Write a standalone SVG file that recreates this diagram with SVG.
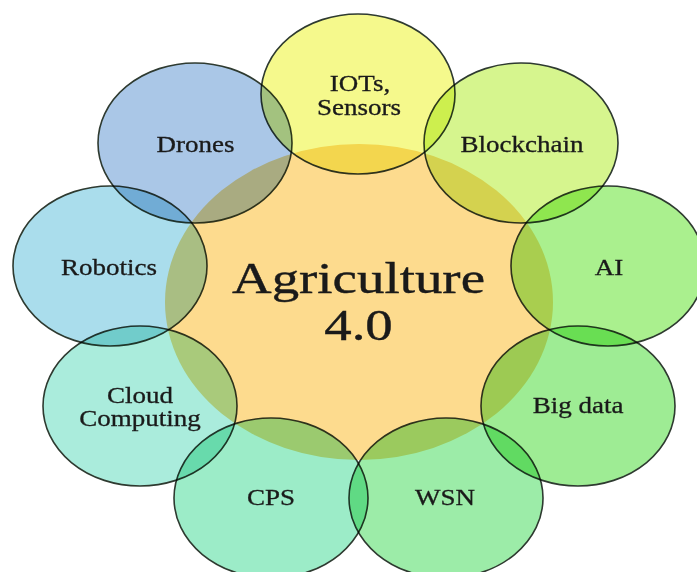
<svg xmlns="http://www.w3.org/2000/svg" width="697" height="572" viewBox="0 0 697 572">
  <style>
    .c { stroke: #2e3a30; stroke-width: 1.6; mix-blend-mode: multiply; }
    .t { font-family: "Liberation Serif", "Times New Roman", serif; font-size: 22.5px; fill: #1a1a1a; stroke: #1a1a1a; stroke-width: 0.3; text-anchor: middle; }
    .big { font-family: "Liberation Serif", "Times New Roman", serif; font-size: 45px; fill: #1a1a1a; stroke: #1a1a1a; stroke-width: 0.4; text-anchor: middle; }
  </style>
  <rect x="0" y="0" width="697" height="572" fill="#ffffff"/>
  <g id="center">
    <ellipse cx="359" cy="302" rx="194" ry="158" fill="#fddb8e"/>
  </g>
  <g id="iots">
    <ellipse class="c" cx="358" cy="94" rx="97" ry="80" fill="#f5f98c"/>
  </g>
  <g id="drones">
    <ellipse class="c" cx="195" cy="143" rx="97" ry="80" fill="#aac7e7"/>
  </g>
  <g id="blockchain">
    <ellipse class="c" cx="521" cy="143" rx="97" ry="80" fill="#d6f58e"/>
  </g>
  <g id="robotics">
    <ellipse class="c" cx="110" cy="266" rx="97" ry="80" fill="#aaddec"/>
  </g>
  <g id="ai">
    <ellipse class="c" cx="608" cy="266" rx="97" ry="80" fill="#aaf08e"/>
  </g>
  <g id="cloud">
    <ellipse class="c" cx="140" cy="406" rx="97" ry="80" fill="#aaecdc"/>
  </g>
  <g id="bigdata">
    <ellipse class="c" cx="578" cy="406" rx="97" ry="80" fill="#9eec94"/>
  </g>
  <g id="cps">
    <ellipse class="c" cx="271" cy="498" rx="97" ry="80" fill="#9cecc8"/>
  </g>
  <g id="wsn">
    <ellipse class="c" cx="446" cy="498" rx="97" ry="80" fill="#9ceca8"/>
  </g>
  <g id="connectors"/>
  <g id="labels">
    <text class="big" transform="translate(358.5,293) scale(1.22,1)">Agriculture</text>
    <text class="big" transform="translate(358.5,340) scale(1.22,1)">4.0</text>
    <text class="t" transform="translate(360,91) scale(1.2,1)">IOTs,</text>
    <text class="t" transform="translate(359,115) scale(1.2,1)">Sensors</text>
    <text class="t" transform="translate(195.5,152) scale(1.2,1)">Drones</text>
    <text class="t" transform="translate(522,152) scale(1.2,1)">Blockchain</text>
    <text class="t" transform="translate(109,275) scale(1.2,1)">Robotics</text>
    <text class="t" transform="translate(609,275) scale(1.2,1)">AI</text>
    <text class="t" transform="translate(140,403) scale(1.2,1)">Cloud</text>
    <text class="t" transform="translate(140,426) scale(1.2,1)">Computing</text>
    <text class="t" transform="translate(578,413) scale(1.2,1)">Big data</text>
    <text class="t" transform="translate(271,505) scale(1.2,1)">CPS</text>
    <text class="t" transform="translate(445,505) scale(1.2,1)">WSN</text>
  </g>
</svg>
